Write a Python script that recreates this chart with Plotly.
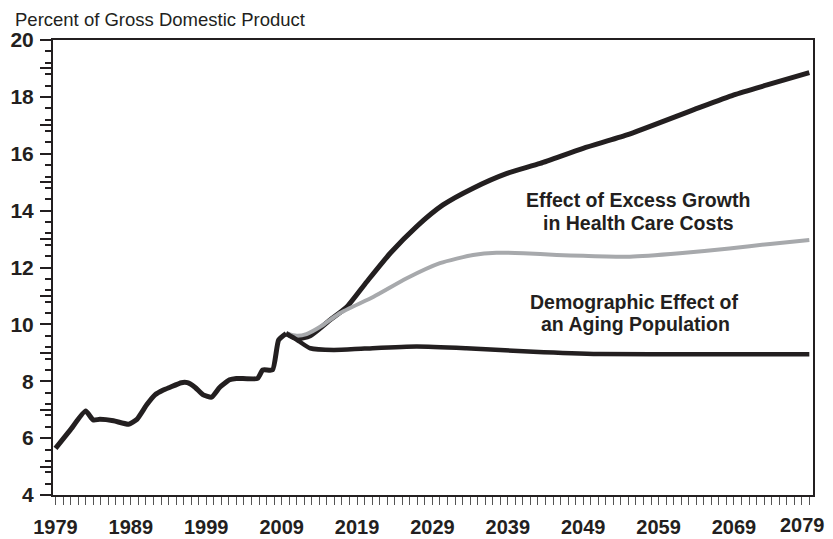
import plotly.graph_objects as go

# ---- data ----
hist_years = [1979.0, 1981.0, 1983.0, 1984.0, 1984.9, 1986.7, 1988.7, 1989.8, 1991.1, 1992.2,
              1993.3, 1994.2, 1995.7, 1996.5, 1997.5, 1998.6, 1999.7, 2000.8, 2002.1, 2003.0,
              2005.8, 2006.5, 2007.8, 2008.6, 2009.6]
hist_vals = [5.64, 6.30, 6.95, 6.64, 6.66, 6.61, 6.49, 6.66, 7.17, 7.52,
             7.69, 7.79, 7.95, 7.95, 7.79, 7.52, 7.44, 7.79, 8.05, 8.10,
             8.10, 8.40, 8.40, 9.45, 9.68]

total_years = [2009.6, 2011.0, 2012.8, 2015.4, 2017.6, 2020.3, 2023.4, 2026.9, 2030.4, 2034.4,
               2038.9, 2043.3, 2049.0, 2054.8, 2063.6, 2069.0, 2073.4, 2079.0]
total_vals = [9.68, 9.50, 9.60, 10.15, 10.60, 11.50, 12.50, 13.44, 14.20, 14.79,
              15.31, 15.66, 16.19, 16.66, 17.54, 18.07, 18.42, 18.85]

gray_years = [2009.6, 2011.0, 2012.3, 2014.5, 2016.7, 2021.2, 2025.6, 2030.0, 2034.4, 2037.5,
              2041.1, 2045.5, 2049.0, 2055.2, 2061.8, 2068.4, 2073.8, 2079.0]
gray_vals = [9.68, 9.60, 9.66, 9.98, 10.39, 10.97, 11.62, 12.15, 12.44, 12.52,
             12.50, 12.44, 12.41, 12.38, 12.50, 12.67, 12.83, 12.97]

demo_years = [2009.6, 2010.5, 2011.4, 2012.8, 2015.9, 2020.0, 2026.9, 2033.5, 2042.4, 2051.2,
              2064.5, 2079.0]
demo_vals = [9.68, 9.55, 9.39, 9.16, 9.10, 9.15, 9.22, 9.16, 9.04, 8.96,
             8.95, 8.95]

x_tick_years = [1979, 1989, 1999, 2009, 2019, 2029, 2039, 2049, 2059, 2069, 2079]
last_year = x_tick_years[-1]
# the last label is drawn as an annotation so that it is not hidden at the right edge
x_tick_text = [str(v) for v in x_tick_years[:-1]] + [""]
y_tick_vals = list(range(4, 21))
y_tick_text = [str(v) if v % 2 == 0 else "" for v in y_tick_vals]

INK = "#231f20"
GRAY = "#a7a9ac"
FONT = "Liberation Sans, Arial, sans-serif"

fig = go.Figure()
fig.add_trace(go.Scatter(x=total_years, y=total_vals, mode="lines",
                         line=dict(color=INK, width=5, shape="spline", smoothing=0.6)))
fig.add_trace(go.Scatter(x=gray_years, y=gray_vals, mode="lines",
                         line=dict(color=GRAY, width=4, shape="spline", smoothing=0.6)))
fig.add_trace(go.Scatter(x=demo_years, y=demo_vals, mode="lines",
                         line=dict(color=INK, width=4.5, shape="spline", smoothing=0.6)))
fig.add_trace(go.Scatter(x=hist_years, y=hist_vals, mode="lines",
                         line=dict(color=INK, width=5, shape="spline", smoothing=0.5)))

tick_font = dict(family=FONT, size=20, color=INK, weight="bold")

# the page body adds an 8px offset, so the figure is 8px smaller on each axis
fig.update_layout(
    width=825, height=531,
    margin=dict(l=45, r=20, t=32, b=44),
    paper_bgcolor="white", plot_bgcolor="white",
    showlegend=False,
    font=dict(family=FONT, color=INK),
    xaxis=dict(
        range=[1978.67, 2079.49], automargin=False,
        tickmode="array", tickvals=x_tick_years, ticktext=x_tick_text,
        ticks="outside", ticklen=8, tickwidth=1, tickcolor="#555555",
        tickfont=tick_font,
        ticklabelstandoff=5,
        minor=dict(tickmode="linear", tick0=1979, dtick=1, ticks="outside",
                   ticklen=8, tickwidth=1, tickcolor="#555555", showgrid=False),
        showgrid=False, zeroline=False,
        showline=True, linecolor=INK, linewidth=2, mirror=True,
    ),
    yaxis=dict(
        range=[4, 20], automargin=False,
        tickmode="array", tickvals=y_tick_vals, ticktext=y_tick_text,
        ticks="outside", ticklen=11, tickwidth=1.5, tickcolor=INK,
        tickfont=dict(family=FONT, size=21, color=INK, weight="bold"),
        ticklabelstandoff=2,
        minor=dict(tickmode="linear", tick0=4, dtick=0.4, ticks="outside",
                   ticklen=6, tickwidth=1.5, tickcolor=INK, showgrid=False),
        showgrid=False, zeroline=False,
        showline=True, linecolor=INK, linewidth=2, mirror=True,
    ),
)

fig.add_annotation(text=str(last_year), xref="x", yref="paper", x=last_year, xshift=-7,
                   y=(487 - 517) / 455, xanchor="center", yanchor="middle",
                   showarrow=False, font=tick_font)

fig.add_annotation(text="Percent of Gross Domestic Product", xref="paper", yref="paper",
                   x=(5 - 45) / 760, y=(487 - 12) / 455, xanchor="left", yanchor="middle",
                   showarrow=False, font=dict(family=FONT, size=18.5, color=INK))

lab_font = dict(family=FONT, size=19.5, color=INK, weight="bold")
for txt, xv, yv in [("Effect of Excess Growth", 2056.3, 14.37),
                    ("in Health Care Costs", 2056.3, 13.56),
                    ("Demographic Effect of", 2055.8, 10.80),
                    ("an Aging Population", 2055.9, 10.01)]:
    fig.add_annotation(text=txt, x=xv, y=yv, xanchor="center", yanchor="middle",
                       showarrow=False, font=lab_font)

fig.write_html("out.html")
